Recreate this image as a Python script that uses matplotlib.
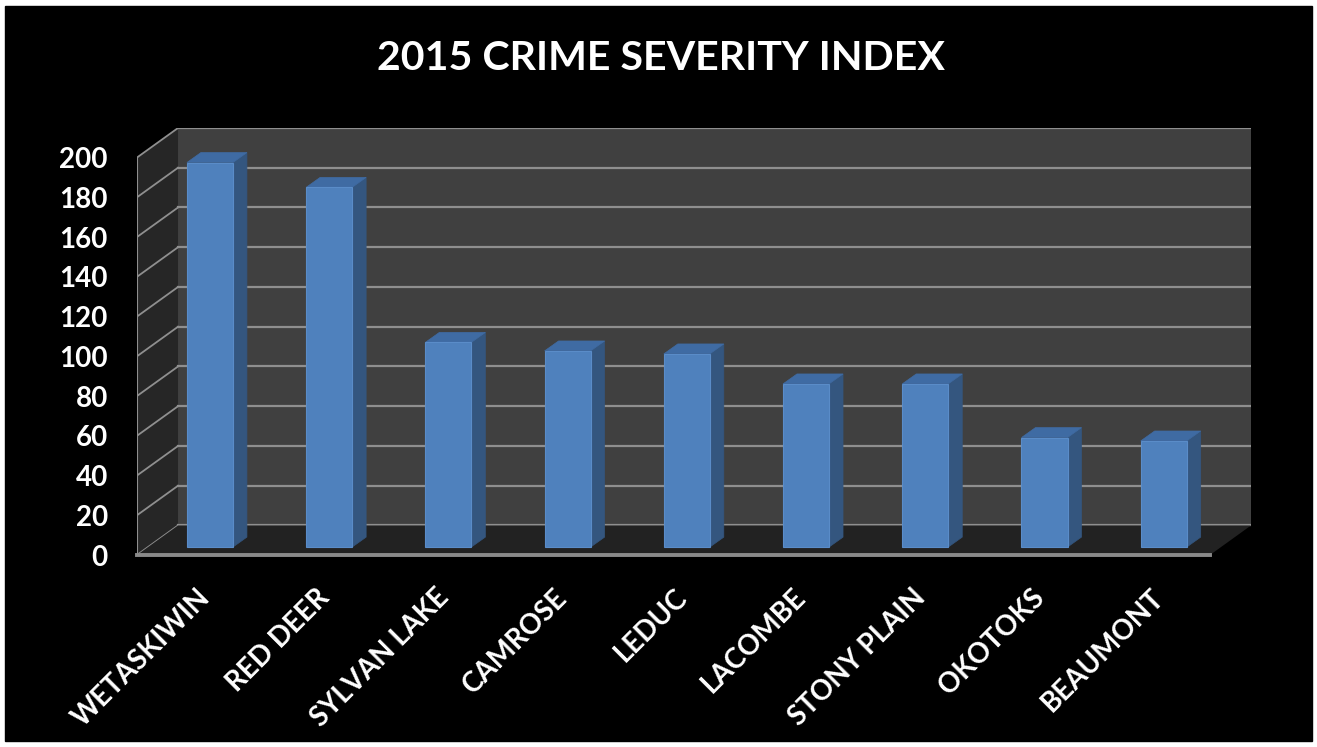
import matplotlib.pyplot as plt
from matplotlib.patches import Polygon, Rectangle

# Crime severity index values
towns = ['WETASKIWIN', 'RED DEER', 'SYLVAN LAKE', 'CAMROSE', 'LEDUC',
         'LACOMBE', 'STONY PLAIN', 'OKOTOKS', 'BEAUMONT']
csi = [193.5, 181, 103, 98.7, 97.2, 82.1, 82.1, 55.1, 53.4]
y_ticks = [0, 20, 40, 60, 80, 100, 120, 140, 160, 180, 200]

plt.rcParams['font.family'] = ['Lato', 'DejaVu Sans']
plt.rcParams['font.weight'] = 'bold'

fig = plt.figure(figsize=(13.17, 7.47), dpi=100, facecolor='white')
# black chart area inside the thin white frame
fig.patches.append(Rectangle((5 / 1317, 6 / 747), 1307 / 1317, 735 / 747,
                             transform=fig.transFigure, color='black', zorder=-10))

ax = fig.add_axes([137 / 1317, 192 / 747, 1114 / 1317, 427 / 747])
ax.set_facecolor('none')
for s in ax.spines.values():
    s.set_visible(False)

n = len(towns)
dx, dy = 0.344, 14.86        # depth of the 3d box (data units)
ax.set_xlim(0, n + dx)
ax.set_ylim(0, 200 + dy)

grid_col = '#8f8f8f'

# walls and floor
ax.add_patch(Polygon([(dx, dy), (n + dx, dy), (n + dx, 200 + dy), (dx, 200 + dy)],
                     facecolor='#404040', edgecolor='none', zorder=1))
ax.add_patch(Polygon([(0, 0), (dx, dy), (dx, 200 + dy), (0, 200)],
                     facecolor='#262626', edgecolor='none', zorder=1))
ax.add_patch(Polygon([(0, 0), (n, 0), (n + dx, dy), (dx, dy)],
                     facecolor='#222222', edgecolor='none', zorder=2))

for v in y_ticks:
    ax.plot([dx, n + dx], [v + dy, v + dy], color=grid_col, lw=1.6, zorder=1.5)
    ax.plot([0, dx], [v, v + dy], color=grid_col, lw=1.3, zorder=1.5)
ax.plot([0, 0], [0, 200], color=grid_col, lw=1.5, zorder=3)
ax.plot([0, n], [0, 0], color='#8a8a8a', lw=2.8, zorder=3, clip_on=False)

# bars
bw = 0.386
bx, by = 0.112, 4.0
ddx, ddy = 0.117, 5.0
for i, v in enumerate(csi):
    x0 = i + 0.5 - bw / 2 + bx
    x1 = x0 + bw
    top = by + v
    ax.add_patch(Polygon([(x1, by), (x1 + ddx, by + ddy), (x1 + ddx, top + ddy), (x1, top)],
                         facecolor='#34567f', edgecolor='#34567f', lw=0.5, zorder=4))
    ax.add_patch(Polygon([(x0, top), (x1, top), (x1 + ddx, top + ddy), (x0 + ddx, top + ddy)],
                         facecolor='#3f6ba3', edgecolor='#3f6ba3', lw=0.5, zorder=4))
    ax.add_patch(Rectangle((x0, by), bw, v, facecolor='#4f81bd',
                           edgecolor='#5a8cc8', lw=0.8, zorder=5))

ax.set_yticks(y_ticks)
ax.set_yticklabels([str(t) for t in y_ticks], color='white', fontsize=20, fontweight='bold')
ax.tick_params(axis='y', length=0, pad=21)

ax.set_xticks([i + 0.5 for i in range(n)])
ax.set_xticklabels(towns, rotation=45, ha='right', va='top', rotation_mode='anchor',
                   color='white', fontsize=20, fontweight='bold')
ax.tick_params(axis='x', length=0, pad=21)

fig.text(0.502, 1 - 58 / 747, '2015 CRIME SEVERITY INDEX', color='white',
         fontsize=29.6, fontweight='bold', ha='center', va='center')

fig.savefig('out.png', dpi=100, facecolor='white')
